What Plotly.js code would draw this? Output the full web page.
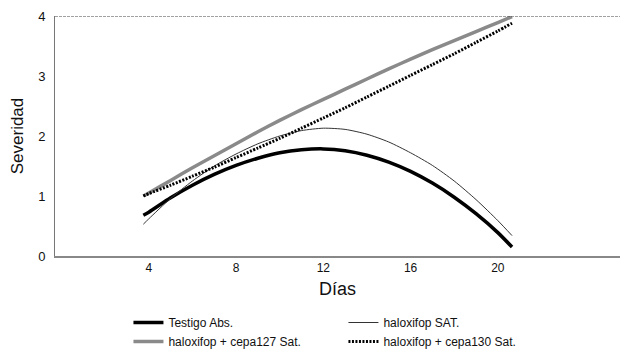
<!DOCTYPE html>
<html>
<head>
<meta charset="utf-8">
<script src="https://cdn.plot.ly/plotly-3.0.1.min.js"></script>
<style>html,body{margin:0;padding:0;background:#fff;}#chart{width:620px;height:354px;}</style>
</head>
<body>
<div id="chart"></div>
<script>
const dias = [3.75, 4, 5, 6, 7, 8, 9, 10, 11, 12, 13, 14, 15, 16, 17, 18, 19, 20, 20.65];
const testigo = [0.68, 0.73, 0.97, 1.18, 1.36, 1.51, 1.63, 1.72, 1.77, 1.785, 1.755, 1.68, 1.565, 1.41, 1.215, 0.98, 0.705, 0.39, 0.15];
const haloxSat = [0.53, 0.62, 0.96, 1.25, 1.5, 1.7, 1.87, 2.0, 2.09, 2.13, 2.11, 2.03, 1.9, 1.72, 1.51, 1.25, 0.94, 0.59, 0.34];
const cepa127 = [1.0, 1.05, 1.26, 1.47, 1.67, 1.87, 2.07, 2.26, 2.44, 2.61, 2.78, 2.95, 3.12, 3.28, 3.44, 3.59, 3.74, 3.89, 3.99];
const cepa130 = [1.0, 1.04, 1.18, 1.33, 1.48, 1.64, 1.8, 1.96, 2.13, 2.3, 2.47, 2.65, 2.83, 3.01, 3.19, 3.37, 3.56, 3.75, 3.88];
const names = ['Testigo Abs.', 'haloxifop SAT.', 'haloxifop + cepa127 Sat.', 'haloxifop + cepa130 Sat.'];
const xTicks = [4, 8, 12, 16, 20];
const yTicks = [0, 1, 2, 3, 4];

const font = 'Liberation Sans, Arial, sans-serif';
const sm = 0.7;
const traces = [
  {x: dias, y: testigo, name: names[0], mode: 'lines', line: {color: '#000', width: 3.5, shape: 'spline', smoothing: sm}},
  {x: dias, y: haloxSat, name: names[1], mode: 'lines', line: {color: '#333', width: 1, shape: 'spline', smoothing: sm}},
  {x: dias, y: cepa127, name: names[2], mode: 'lines', line: {color: '#8a8a8a', width: 3.5, shape: 'spline', smoothing: sm}},
  {x: dias, y: cepa130, name: names[3], mode: 'lines', line: {color: '#000', width: 3, dash: '2px,1.5px', shape: 'spline', smoothing: sm}}
];
const H = 354, T = 16, B = 0;
const paperH = H - T - B;
const plotBottomPx = 256;
const layout = {
  width: 620, height: 354,
  margin: {l: 55, r: 0, t: T, b: B, autoexpand: false},
  paper_bgcolor: '#fff', plot_bgcolor: '#fff',
  font: {family: font, color: '#111', size: 12},
  showlegend: true,
  legend: {orientation: 'h', x: 0.13, xanchor: 'left', y: (H - 308) / paperH, yanchor: 'top',
           entrywidth: 170, entrywidthmode: 'pixels', font: {size: 12, family: font},
           tracegroupgap: 0, bgcolor: 'rgba(0,0,0,0)'},
  xaxis: {range: [-0.3, 25.6], tickvals: xTicks, ticktext: xTicks.map(String), automargin: false,
          showgrid: false, zeroline: false, showline: true, linecolor: '#888', linewidth: 2,
          ticks: '', tickfont: {size: 12, family: font},
          title: {text: 'Días', font: {size: 18, family: font}, standoff: 8}},
  yaxis: {range: [0, 4], domain: [(H - plotBottomPx) / paperH, 1], automargin: false,
          tickvals: yTicks, ticktext: yTicks.map(String),
          showgrid: false, zeroline: false, showline: true, linecolor: '#777', linewidth: 1,
          ticks: '', tickfont: {size: 13, family: font}, ticklabelstandoff: 6,
          title: {text: 'Severidad', font: {size: 17, family: font}, standoff: 10}},
  shapes: [{type: 'line', xref: 'paper', yref: 'y', x0: 0, x1: 1, y0: 4, y1: 4,
            line: {color: '#444', width: 1, dash: '3px,1px'}}]
};
Plotly.newPlot('chart', traces, layout, {displayModeBar: false, staticPlot: true});
</script>
</body>
</html>
